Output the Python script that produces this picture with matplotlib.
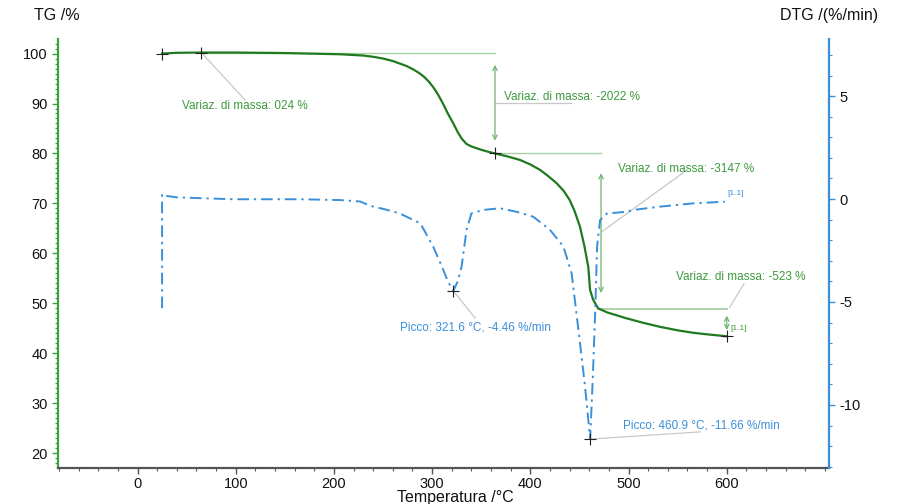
import matplotlib
matplotlib.use("Agg")
from matplotlib import pyplot as plt
from matplotlib.ticker import MultipleLocator

plt.rcParams['font.family'] = ['Liberation Sans', 'DejaVu Sans']
plt.rcParams['axes.unicode_minus'] = False

# Data
temp_tg = [25, 40, 65, 100, 150, 206, 230, 240, 250, 260, 267, 274, 281, 287.5, 292, 297, 301,
           306, 311, 316, 321.6, 326, 330, 335, 340, 349, 356, 364, 375, 389.5, 400, 410, 418,
           427, 434, 440, 445, 450.6, 455, 459, 460.8, 464, 469, 478, 498, 515, 532, 550, 566,
           580, 600]
tg = [100.0, 100.15, 100.2, 100.2, 100.1, 99.86, 99.6, 99.35, 99.0, 98.5, 98.0, 97.5, 96.8,
      96.0, 95.3, 94.3, 93.3, 91.8, 90.0, 88.0, 86.0, 84.3, 83.0, 81.9, 81.4, 80.8, 80.4, 80.0,
      79.5, 78.7, 77.8, 76.7, 75.5, 74.0, 72.5, 70.7, 68.5, 65.3, 61.5, 57.3, 52.7, 50.7, 49.0,
      48.2, 47.0, 46.1, 45.3, 44.6, 44.1, 43.8, 43.4]

temp_dtg = [25, 25, 30, 40, 97, 165, 206, 226.6, 237, 252, 267, 288, 294, 301, 311, 316, 321.6,
            326, 330, 335, 340, 352, 369, 386, 403, 420, 433.6, 442, 449, 455.7, 460.9, 463.5,
            466, 468, 471, 478, 498, 504.7, 532, 566, 598]
dtg = [-5.3, 0.24, 0.15, 0.08, -0.01, -0.01, -0.05, -0.12, -0.33, -0.5, -0.7, -1.18, -1.7, -2.3,
       -3.4, -4.0, -4.46, -4.0, -3.28, -1.5, -0.7, -0.53, -0.45, -0.62, -0.86, -1.5, -2.3, -3.6,
       -6.36, -9.1, -11.66, -8.8, -5.55, -2.3, -1.02, -0.7, -0.62, -0.53, -0.37, -0.21, -0.13]

# step points of the mass changes
step_t = [65, 364, 469, 600]
step_tg = [100.2, 80.0, 48.9, 43.4]
step_text = ['Variaz. di massa: 024 %', 'Variaz. di massa: -2022 %',
             'Variaz. di massa: -3147 %', 'Variaz. di massa: -523 %']

peak_t = [321.6, 460.9]
peak_dtg = [-4.46, -11.66]
peak_text = ['Picco: 321.6 °C, -4.46 %/min', 'Picco: 460.9 °C, -11.66 %/min']

# colours
c_tg = '#1f7a1f'
c_green = '#3d9a3d'
c_ref = '#a8d0a8'
c_arrow = '#70b470'
c_lead = '#c8c8c8'
c_blue = '#3a8fd9'

fig = plt.figure(figsize=(8.99, 5.04), dpi=100)
ax = fig.add_axes([0.0645, 0.072, 0.8575, 0.8505])
ax2 = ax.twinx()

# Plotting
ax.plot(temp_tg, tg, color=c_tg, lw=1.6, zorder=3)
ax2.plot(temp_dtg, dtg, color=c_blue, lw=1.4, linestyle=(0, (6, 2.5, 1.2, 2.5)))

# reference lines of the steps
ax.plot([step_t[0], step_t[1]], [step_tg[0], step_tg[0]], color=c_ref, lw=1.0, zorder=2)
ax.plot([step_t[1], 472], [step_tg[1], step_tg[1]], color=c_ref, lw=1.0, zorder=2)
ax.plot([step_t[2], step_t[3]], [step_tg[2], step_tg[2]], color=c_ref, lw=1.3, zorder=2)

# double arrows
arr = dict(arrowstyle='<->', color=c_arrow, lw=0.9, mutation_scale=8)
ax.annotate('', xy=(364, 82.0), xytext=(364, 98.3), arrowprops=arr)
ax.annotate('', xy=(472, 51.5), xytext=(472, 76.6), arrowprops=arr)
ax.annotate('', xy=(600, 44.1), xytext=(600, 48.1), arrowprops=arr)

# markers
ax.plot([25, 65, 364, 600], [100.0, 100.2, 80.0, 43.4], '+', color='#222222', ms=8, mew=0.8, zorder=4)
ax2.plot(peak_t, peak_dtg, '+', color='#222222', ms=8, mew=0.8, zorder=4)

# leader lines
ax.plot([65, 109.5], [100.2, 90.7], color=c_lead, lw=0.9)
ax.plot([364, 441], [90.06, 90.06], color=c_lead, lw=0.9)
ax.plot([472.5, 559.5], [64.3, 76.7], color=c_lead, lw=0.9)
ax.plot([603, 617.5], [49.2, 53.9], color=c_lead, lw=0.9)
ax2.plot([321.6, 343.7], [-4.46, -5.78], color=c_lead, lw=0.9)
ax2.plot([460.9, 572.8], [-11.66, -11.31], color=c_lead, lw=0.9)

# texts
fs = 8.5
ax.text(45.3, 89.5, step_text[0], color=c_green, fontsize=fs, va='center')
ax.text(373, 91.3, step_text[1], color=c_green, fontsize=fs, va='center')
ax.text(489, 76.9, step_text[2], color=c_green, fontsize=fs, va='center')
ax.text(548, 55.3, step_text[3], color=c_green, fontsize=fs, va='center')
ax.text(604, 44.9, '[1.1]', color=c_green, fontsize=6, va='center')
ax2.text(601, 0.29, '[1.1]', color=c_blue, fontsize=6, va='center')
ax2.text(267, -6.25, peak_text[0], color=c_blue, fontsize=fs, va='center')
ax2.text(494.4, -11.02, peak_text[1], color=c_blue, fontsize=fs, va='center')

# axes
ax.set_xlim(-81, 704)
ax.set_ylim(17.1, 102.9)
ax2.set_ylim(-13.05, 7.77)
ax.set_xticks([0, 100, 200, 300, 400, 500, 600])
ax.xaxis.set_minor_locator(MultipleLocator(20))
ax.set_yticks([20, 30, 40, 50, 60, 70, 80, 90, 100])
ax.yaxis.set_minor_locator(MultipleLocator(1))
ax2.set_yticks([-10, -5, 0, 5])
ax2.yaxis.set_minor_locator(MultipleLocator(1))

for a in (ax, ax2):
    a.spines['top'].set_visible(False)
ax.spines['right'].set_visible(False)
ax2.spines['left'].set_visible(False)
ax2.spines['bottom'].set_visible(False)
ax.spines['left'].set_color('#3aa23a')
ax.spines['left'].set_linewidth(1.6)
ax2.spines['right'].set_color('#3a8fd9')
ax2.spines['right'].set_linewidth(1.6)
ax.spines['bottom'].set_color('#555555')
ax.spines['bottom'].set_linewidth(1.6)

ax.tick_params(axis='y', which='major', colors='#3aa23a', labelcolor='#111111', labelsize=10.5, length=4, width=1)
ax.tick_params(axis='y', which='minor', colors='#3aa23a', length=2.5, width=0.8)
ax.tick_params(axis='x', which='major', colors='#555555', labelcolor='#111111', labelsize=10.5, length=4, width=1, pad=2.5)
ax.tick_params(axis='x', which='minor', colors='#555555', length=2.5, width=0.8)
ax2.tick_params(axis='y', which='major', colors='#3a8fd9', labelcolor='#111111', labelsize=10.5, length=4, width=1)
ax2.tick_params(axis='y', which='minor', colors='#3a8fd9', length=2.5, width=0.8)

# labels
fig.text(0.0378, 0.97, 'TG /%', fontsize=11.5, va='center', color='#111111')
fig.text(0.868, 0.97, 'DTG /(%/min)', fontsize=11.5, va='center', color='#111111')
fig.text(0.507, 0.013, 'Temperatura /°C', fontsize=11.5, ha='center', va='center', color='#111111')

fig.savefig('out.png', dpi=100)
